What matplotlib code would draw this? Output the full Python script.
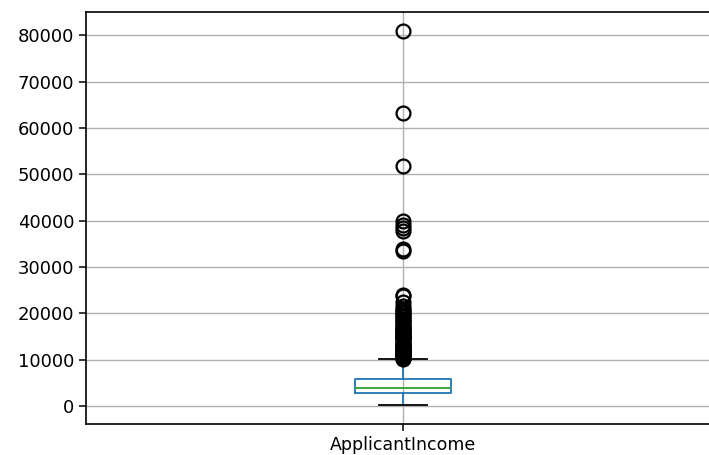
import matplotlib
matplotlib.use("Agg")
import matplotlib.pyplot as plt

# ============================================================
# DATA
# ============================================================

column = "ApplicantIncome"

q1 = 2877.5
median = 3812.5
q3 = 5795
whisker_low = 150
whisker_high = 10139

outliers = [12841, 12500, 11500, 10750, 13650, 11417, 14583, 10408, 23803,
            10513, 20166, 14999, 11757, 14866, 39999, 51763, 33846, 39147,
            12000, 11000, 16250, 14683, 11146, 14583, 20233, 15000, 63337,
            19730, 15759, 81000, 14880, 12876, 10416, 37719, 16692, 16666,
            10833, 18333, 17263, 20667, 17500, 11250, 18165, 19484, 16120,
            12173, 10750, 12000, 13262, 20833, 15000, 12500, 10833, 18333,
            10200, 11666, 12083, 13500, 14000, 15500, 16000, 17000, 18800,
            19200, 21600, 22500, 24000, 33500, 38500]

y_ticks = [0, 10000, 20000, 30000, 40000, 50000, 60000, 70000, 80000]

# ============================================================
# PLOT
# ============================================================

fig = plt.figure(figsize=(7.09, 4.55), dpi=100)
ax = fig.add_axes([86 / 709, 1 - 424 / 455, 634 / 709, 412 / 455])

stats = [{
    "label": column,
    "q1": q1, "med": median, "q3": q3,
    "whislo": whisker_low, "whishi": whisker_high,
    "fliers": outliers,
}]

ax.bxp(stats, positions=[1], widths=0.15,
       boxprops=dict(color="#1f77b4", linewidth=1.3),
       whiskerprops=dict(color="#1f77b4", linewidth=1.3),
       medianprops=dict(color="#2ca02c", linewidth=1.3),
       capprops=dict(color="black", linewidth=1.3),
       flierprops=dict(marker="o", markerfacecolor="none",
                       markeredgecolor="black", markersize=10,
                       markeredgewidth=1.6))

ax.set_xlim(0.5, 1.5)
ax.set_yticks(y_ticks)
ax.grid(True, color="#b0b0b0", linewidth=1.0)
ax.set_axisbelow(True)
ax.tick_params(axis="y", labelsize=13, length=5, width=1.1)
ax.tick_params(axis="x", labelsize=12.5, length=5, width=1.1)
for s in ax.spines.values():
    s.set_linewidth(1.2)

fig.savefig("out.png", dpi=100)
